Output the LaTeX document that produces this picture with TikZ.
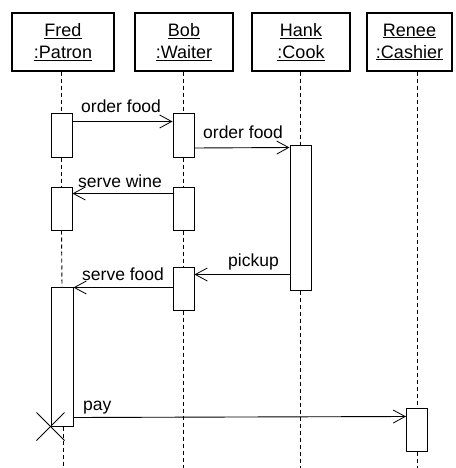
\documentclass[tikz,border=0pt]{standalone}
\usepackage{fontspec}
\setmainfont{Liberation Sans}
\usetikzlibrary{arrows.meta}
\begin{document}
\begin{tikzpicture}[x=1pt,y=-1pt,
  objbox/.style={draw, line width=1.1pt, minimum width=#1, minimum height=58pt,
    inner sep=0pt, align=center, font=\fontsize{18}{22}\selectfont},
  actbox/.style={draw, line width=1pt, fill=white, minimum width=21pt,
    minimum height=#1, inner sep=0pt},
  life/.style={line width=0.9pt, dash pattern=on 4pt off 3pt},
  msg/.style={line width=0.9pt,
    -{Straight Barb[length=12pt,width=13pt,line width=0.8pt]}},
  lbl/.style={font=\fontsize{17.5}{20}\selectfont, inner sep=0pt, anchor=base west},
  kill/.style={line width=0.8pt}
]
\useasboundingbox (0,0) rectangle (455,468);

% objects
\node[objbox=102pt] (fred)  at (63,42)    {\underline{Fred}\\\underline{:Patron}};
\node[objbox=98pt]  (bob)   at (184,42)   {\underline{Bob}\\\underline{:Waiter}};
\node[objbox=98pt]  (hank)  at (301,42)   {\underline{Hank}\\\underline{:Cook}};
\node[objbox=85pt]  (renee) at (409.5,42) {\underline{Renee}\\\underline{:Cashier}};

% activation bars
\node[actbox=43pt] (f1) at (61.5,135.5) {};
\node[actbox=43pt] (f2) at (61.5,208.5) {};
\node[actbox=139pt, minimum width=22pt] (f3) at (62,356.5) {};
\node[actbox=43pt] (b1) at (183.5,135.5) {};
\node[actbox=43pt] (b2) at (183.5,208.5) {};
\node[actbox=43pt] (b3) at (183.5,288.5) {};
\node[actbox=145pt] (h1) at (300.5,217.5) {};
\node[actbox=43pt] (r1) at (417,429.5) {};

% lifeline ends
\coordinate (fredend)  at (63,468);
\coordinate (bobend)   at (183.5,468);
\coordinate (hankend)  at (300.5,468);
\coordinate (reneeend) at (417,468);

% lifelines
\draw[life] (f1.north |- fred.south) -- (f1.north);
\draw[life] (f1.south) -- (f2.north);
\draw[life] (f2.south) -- (f3.north);
\draw[life] (f3.south -| fredend) -- (fredend);
\draw[life] (b1.north |- bob.south) -- (b1.north);
\draw[life] (b1.south) -- (b2.north);
\draw[life] (b2.south) -- (b3.north);
\draw[life] (b3.south) -- (bobend);
\draw[life] (h1.north |- hank.south) -- (h1.north);
\draw[life] (h1.south) -- (hankend);
\draw[life] (r1.north |- renee.south) -- (r1.north);
\draw[life] (r1.south) -- (reneeend);

% messages
\draw[msg] ([yshift=-8pt]f1.north east) -- ([yshift=-8pt]b1.north west);
\draw[msg] ([yshift=-12.5pt]b1.east) -- ([yshift=-3pt]h1.north west);
\draw[msg] ([yshift=-7pt]b2.north west) -- ([yshift=-7pt]f2.north east);
\draw[msg] ([yshift=-130pt]h1.north west) -- ([yshift=-8pt]b3.north east);
\draw[msg] ([yshift=-21pt]b3.north west) -- ([yshift=-1pt]f3.north east);
\draw[msg] ([yshift=9pt]f3.south east) -- ([yshift=-9pt]r1.north west);

% message labels
\node[lbl] (m1) at (81,113)  {order food};
\node[lbl] (m2) at (203,139) {order food};
\node[lbl] (m3) at (78,187)  {serve wine};
\node[lbl] (m4) at (228,266) {pickup};
\node[lbl] (m5) at (82,280)  {serve food};
\node[lbl] (m6) at (83,410)  {pay};

% destruction of the patron
\draw[kill] ([shift={(-14pt,14pt)}]f3.south west) -- ([shift={(14pt,-14pt)}]f3.south west);
\draw[kill] ([shift={(-14pt,-14pt)}]f3.south west) -- ([shift={(14pt,14pt)}]f3.south west);
\end{tikzpicture}
\end{document}
